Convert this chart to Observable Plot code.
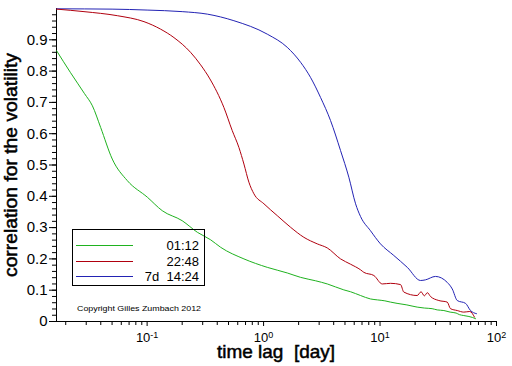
<!DOCTYPE html>
<html><head><meta charset="utf-8">
<script src="https://cdn.jsdelivr.net/npm/d3@7"></script>
<script src="https://cdn.jsdelivr.net/npm/@observablehq/plot@0.6"></script>
<style>
html,body{margin:0;padding:0;background:#fff;}
#chart{width:512px;height:366px;}
svg{font-family:"Liberation Sans",Arial,sans-serif;}
</style></head>
<body><div id="chart"></div>
<script>
// ---- data (time lag in days, correlation) ----
const seriesNames = ["01:12", "22:48", "7d  14:24"];
const seriesColors = ["#1fb21f", "#b0000e", "#2323b4"];

const lagGreen = [0.0167, 0.0220, 0.0290, 0.0339, 0.0399, 0.0502, 0.0676, 0.1005, 0.1349, 0.200, 0.270, 0.351, 0.428, 0.678, 1.076, 1.60, 2.080, 2.80, 3.524, 4.887, 5.585, 6.8, 8.279, 9.5, 11.0, 12.30, 14.0, 17.0, 20.84, 24.0, 28.0, 31.0, 35.32, 40.0, 45.0, 48.0, 52.36, 58.0, 62.0, 66.07];
const corrGreen = [0.865, 0.795, 0.728, 0.689, 0.62, 0.519, 0.45, 0.397, 0.354, 0.322, 0.285, 0.261, 0.237, 0.2, 0.173, 0.155, 0.141, 0.130, 0.12, 0.101, 0.095, 0.083, 0.072, 0.069, 0.066, 0.062, 0.058, 0.053, 0.046, 0.043, 0.041, 0.037, 0.035, 0.030, 0.027, 0.022, 0.019, 0.016, 0.013, 0.009];

const lagRed = [0.0167, 0.0287, 0.0555, 0.0940, 0.1306, 0.170, 0.236, 0.288, 0.346, 0.456, 0.538, 0.614, 0.678, 0.748, 0.826, 1.007, 1.312, 1.706, 2.218, 2.891, 3.524, 4.581, 5.585, 6.808, 7.261, 8.851, 10.45, 12.30, 15.00, 16.00, 20.84, 22.5, 24.0, 25.5, 27.10, 31.99, 37.76, 40.27, 46.0, 52.36, 59.0, 64.71];
const corrRed = [0.998, 0.990, 0.977, 0.958, 0.934, 0.907, 0.86, 0.82, 0.775, 0.684, 0.61, 0.556, 0.503, 0.445, 0.408, 0.376, 0.338, 0.301, 0.269, 0.248, 0.235, 0.2, 0.183, 0.165, 0.157, 0.147, 0.12, 0.122, 0.118, 0.094, 0.083, 0.095, 0.082, 0.092, 0.08, 0.067, 0.062, 0.041, 0.035, 0.030, 0.032, 0.014];

const lagBlue = [0.0167, 0.05, 0.1, 0.2, 0.329, 0.556, 1.076, 1.596, 2.080, 2.529, 3.083, 3.758, 4.581, 5.395, 6.166, 6.808, 8.279, 10.09, 13.12, 17.14, 22.28, 24.5, 29.92, 37.76, 41.69, 46.03, 54.20, 59.84, 67.30];
const corrBlue = [0.999, 0.998, 0.995, 0.99, 0.982, 0.961, 0.918, 0.876, 0.828, 0.78, 0.716, 0.642, 0.546, 0.461, 0.376, 0.335, 0.29, 0.248, 0.211, 0.173, 0.131, 0.133, 0.144, 0.125, 0.104, 0.067, 0.058, 0.035, 0.025];

// ---- axes ----
const xDomain = [1/60, 100];
const xMajor = [0.1, 1, 10, 100];
const xMajorLabels = ["10^-1", "10^0", "10^1", "10^2"];
const xMinor = [0.02,0.03,0.04,0.05,0.06,0.07,0.08,0.09,0.2,0.3,0.4,0.5,0.6,0.7,0.8,0.9,2,3,4,5,6,7,8,9,20,30,40,50,60,70,80,90];
const yMajor = [0, 0.1, 0.2, 0.3, 0.4, 0.5, 0.6, 0.7, 0.8, 0.9];
const yMajorLabels = ["0", "0.1", "0.2", "0.3", "0.4", "0.5", "0.6", "0.7", "0.8", "0.9"];
const yMinor = d3.range(0, 0.99, 0.02);
const xLabel = "time lag  [day]";
const yLabel = "correlation for the volatility";
const copyright = "Copyright Gilles Zumbach 2012";

// draw order: blue, red, green
const rows = [];
[[lagBlue, corrBlue, 2], [lagRed, corrRed, 1], [lagGreen, corrGreen, 0]].forEach(([L, C, k]) => {
  L.forEach((t, i) => rows.push({lag: t, corr: C[i], name: seriesNames[k]}));
});

const plot = Plot.plot({
  width: 512, height: 366,
  marginTop: 8, marginRight: 16, marginBottom: 45, marginLeft: 56,
  style: {background: "#fff", fontFamily: "Liberation Sans, Arial, sans-serif", color: "#000"},
  x: {type: "log", domain: xDomain},
  y: {domain: [0, 1]},
  color: {domain: seriesNames, range: seriesColors},
  marks: [
    Plot.axisY({ticks: yMinor, tickSize: 4, text: null, label: null}),
    Plot.axisY({ticks: yMajor, tickSize: 7, tickPadding: 2, fontSize: 15, label: null,
      tickFormat: d => yMajorLabels[yMajor.findIndex(v => Math.abs(v - d) < 1e-9)]}),
    Plot.axisX({ticks: xMinor, tickSize: 4, text: null, label: null}),
    Plot.axisX({ticks: xMajor, tickSize: 5, tickPadding: 6, fontSize: 13, label: null,
      tickFormat: d => xMajorLabels[xMajor.findIndex(v => Math.abs(v - d) / v < 1e-9)]}),
    Plot.ruleY([0], {stroke: "#000"}),
    Plot.ruleX([xDomain[0]], {stroke: "#000"}),
    Plot.line(rows, {x: "lag", y: "corr", z: "name", stroke: "name", strokeWidth: 1, curve: "monotone-x"})
  ]
});

document.getElementById("chart").appendChild(plot);

// superscript exponents on the x tick labels
d3.select(plot).selectAll('g[aria-label="x-axis tick label"] text').each(function() {
  const s = this.textContent;
  const [base, exp] = s.split("^");
  const t = d3.select(this);
  t.text(null);
  t.append("tspan").text(base);
  t.append("tspan").attr("dy", -3.5).attr("font-size", 9).text(exp);
});

const svg = d3.select(plot);
// axis titles
svg.append("text")
  .attr("x", 276).attr("y", 358)
  .attr("text-anchor", "middle")
  .attr("font-size", 19)
  .attr("stroke", "#000").attr("stroke-width", 0.5)
  .attr("textLength", 118).attr("lengthAdjust", "spacingAndGlyphs")
  .style("white-space", "pre")
  .text(xLabel);
svg.append("text")
  .attr("transform", "translate(16.5,165) rotate(-90)")
  .attr("text-anchor", "middle")
  .attr("font-size", 19)
  .attr("stroke", "#000").attr("stroke-width", 0.5)
  .attr("textLength", 224).attr("lengthAdjust", "spacingAndGlyphs")
  .text(yLabel);

// legend
const lg = svg.append("g").attr("aria-label", "legend");
lg.append("rect").attr("x", 72.5).attr("y", 229.5).attr("width", 132).attr("height", 56)
  .attr("fill", "none").attr("stroke", "#000");
const legendY = [245, 261, 276];
seriesNames.forEach((n, i) => {
  lg.append("line").attr("x1", 76).attr("x2", 133).attr("y1", legendY[i] + 0.5).attr("y2", legendY[i] + 0.5)
    .attr("stroke", seriesColors[i]);
  lg.append("text").attr("x", 199).attr("y", legendY[i] + 4.5)
    .attr("text-anchor", "end").attr("font-size", 13)
    .style("white-space", "pre").text(n);
});
svg.append("text").attr("x", 139).attr("y", 311)
  .attr("text-anchor", "middle").attr("font-size", 8)
  .attr("textLength", 124).attr("lengthAdjust", "spacingAndGlyphs")
  .text(copyright);
</script>
</body></html>
